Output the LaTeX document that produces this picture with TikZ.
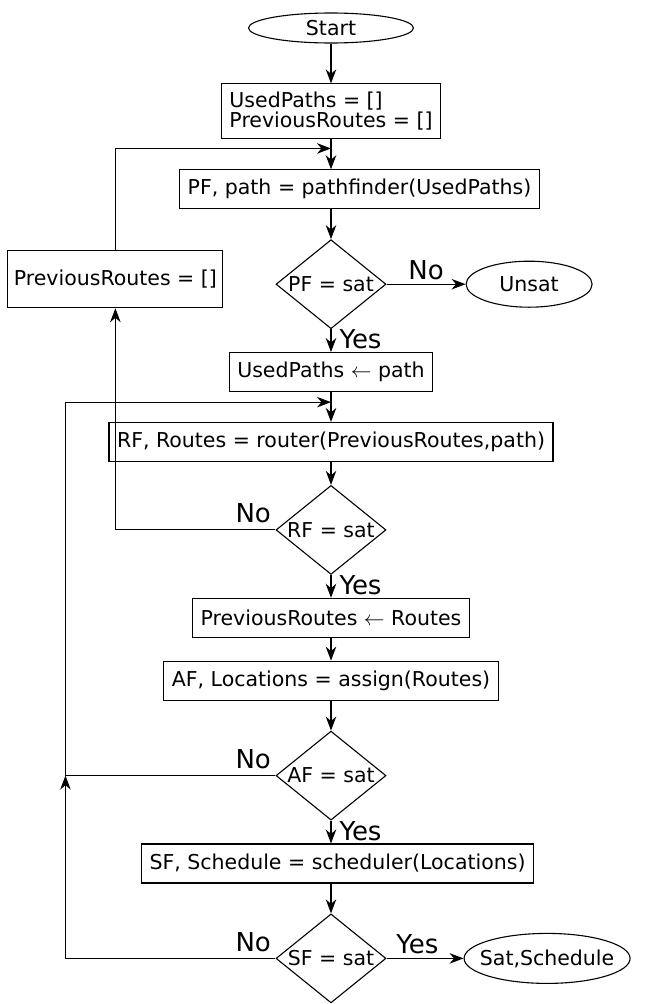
\documentclass[tikz,border=0pt]{standalone}
\usepackage{fontspec}
\setmainfont{DejaVu Sans}
\usetikzlibrary{shapes,positioning,arrows.meta}

\begin{document}
\begin{tikzpicture}[line width=1.1pt,
        >={Stealth[length=14pt,width=10.5pt,inset=4.5pt]},
        font=\fontsize{20.5}{20}\selectfont]

        \def\d{29.8pt}
        \def\s{22.8pt}

        % Box, decision and terminal shapes of the flow
        \tikzset{
            box/.style={draw, rectangle, inner xsep=8pt, minimum height=39pt},
            test/.style={draw, diamond, inner sep=0pt, shape aspect=1.24,
                minimum width=110pt, minimum height=89pt},
            term/.style={draw, ellipse, inner sep=0pt},
            lbl/.style={font=\fontsize{26}{26}\selectfont, inner sep=2pt}
        }

        \useasboundingbox (0,0) rectangle (648pt,-1004pt);

        % Main column, top to bottom
        \begin{scope}
            \node[term, minimum width=165pt, minimum height=30pt] (start)
            at (331pt,-28pt) {Start};
            \node[box, align=left, minimum height=55pt] (init) [below=39.8pt of start]
            {UsedPaths = []\\PreviousRoutes = []};
            \node[box] (pf) [below=\d of init, xshift=28.5pt]
            {PF, path = pathfinder(UsedPaths)};
            \node[test] (pfsat) [below=\d of pf, xshift=-28.5pt]
            {PF = sat};
            \node[box] (used) [below=\s of pfsat]
            {UsedPaths $\leftarrow$ path};
            \node[box] (rf) [below=\d of used]
            {RF, Routes = router(PreviousRoutes,path)};
            \node[test] (rfsat) [below=\s of rf]
            {RF = sat};
            \node[box] (prev) [below=\s of rfsat]
            {PreviousRoutes $\leftarrow$ Routes};
            \node[box] (af) [below=\s of prev]
            {AF, Locations = assign(Routes)};
            \node[test] (afsat) [below=\d of af]
            {AF = sat};
            \node[box] (sf) [below=\s of afsat, xshift=6.5pt]
            {SF, Schedule = scheduler(Locations)};
            \node[test] (sfsat) [below=\d of sf, xshift=-6.5pt]
            {SF = sat};
        \end{scope}

        % Side nodes
        \begin{scope}
            \node[term, minimum width=126pt, minimum height=46pt] (unsat)
            [right=79pt of pfsat] {Unsat};
            \node[box, inner xsep=6pt, minimum height=57pt] (reset)
            [left=52pt of pfsat, yshift=5pt] {PreviousRoutes = []};
            \node[term, minimum width=166pt, minimum height=50pt, inner xsep=-10pt] (sat)
            [right=77pt of sfsat] {Sat,Schedule};
        \end{scope}

        \coordinate (join1) at ([yshift=-9pt]init.south);
        \coordinate (join2) at ([yshift=-10pt]used.south);
        \coordinate[left=210pt of sfsat.west] (back);

        \begin{scope}[->]
            \draw (start) -- (init);
            \draw (init) -- (init |- pf.north);
            \draw (init |- pf.south) -- (pfsat);
            \draw (pfsat) -- node[lbl, above=2pt] (pfno) {No} (unsat);
            \draw (pfsat) -- (used);
            \draw (used) -- (rf);
            \draw (rf) -- (rfsat);
            \draw (rfsat.west) -| (reset.south);
            \draw (reset.north) |- (join1);
            \draw (rfsat) -- (prev);
            \draw (prev) -- (af);
            \draw (af) -- (afsat);
            \draw[-] (afsat.west) -- (back |- afsat.west);
            \draw (afsat) -- (afsat |- sf.north);
            \draw (afsat |- sf.south) -- (sfsat);
            \draw (sfsat) -- node[lbl, above=2pt, pos=0.4] (sfyes) {Yes} (sat);
            \draw (sfsat.west) -- (back) -- (back |- afsat.west);
            \draw (back |- afsat.west) |- (join2);
        \end{scope}

        % Yes / No labels at the decisions
        \node[lbl, anchor=north west] (pfyes) at ([xshift=6pt,yshift=2pt]pfsat.south) {Yes};
        \node[lbl, anchor=north west] (rfyes) at ([xshift=6pt,yshift=2pt]rfsat.south) {Yes};
        \node[lbl, anchor=north west] (afyes) at ([xshift=6pt,yshift=2pt]afsat.south) {Yes};
        \node[lbl, anchor=south east] (rfno) at ([xshift=-2pt,yshift=4pt]rfsat.west) {No};
        \node[lbl, anchor=south east] (afno) at ([xshift=-2pt,yshift=4pt]afsat.west) {No};
        \node[lbl, anchor=south east] (sfno) at ([xshift=-2pt,yshift=4pt]sfsat.west) {No};

\end{tikzpicture}
\end{document}
